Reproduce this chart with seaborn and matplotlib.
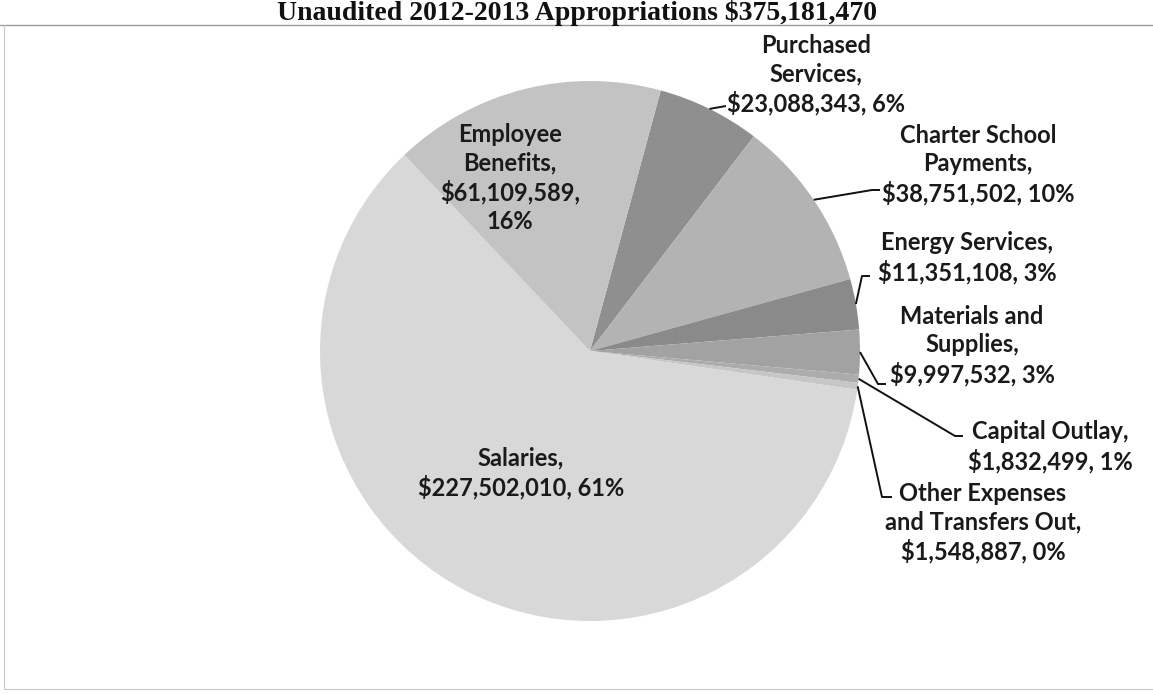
import numpy as np
import matplotlib
matplotlib.use("Agg")
import matplotlib.pyplot as plt
import seaborn as sns

# ---- data (clockwise order starting near 12 o'clock) ----
categories = ["Purchased Services", "Charter School Payments", "Energy Services",
              "Materials and Supplies", "Capital Outlay",
              "Other Expenses and Transfers Out", "Salaries", "Employee Benefits"]
values = [23088343, 38751502, 11351108, 9997532, 1832499, 1548887, 227502010, 61109589]
labels = ["Purchased\nServices,\n$23,088,343, 6%",
          "Charter School\nPayments,\n$38,751,502, 10%",
          "Energy Services,\n$11,351,108, 3%",
          "Materials and\nSupplies,\n$9,997,532, 3%",
          "Capital Outlay,\n$1,832,499, 1%",
          "Other Expenses\nand Transfers Out,\n$1,548,887, 0%",
          "Salaries,\n$227,502,010, 61%",
          "Employee\nBenefits,\n$61,109,589,\n16%"]
title = "Unaudited 2012-2013 Appropriations $375,181,470"

# ---- style ----
sns.set_theme(style="white")
plt.rcParams["font.family"] = ["Lato", "DejaVu Sans"]
colors = ["#8f8f8f", "#b3b3b3", "#8a8a8a", "#a2a2a2", "#acacac", "#c6c6c6",
          "#d8d8d8", "#c3c3c3"]

W, H = 1153, 694
fig = plt.figure(figsize=(W / 100, H / 100), dpi=100)
ax = fig.add_axes([0, 0, 1, 1])

def py(y):  # pixel row (from top) -> data y
    return H - y

cx, cy, R = 590, py(351), 270
wedges, _ = ax.pie(values, colors=colors, startangle=74.8, counterclock=False,
                   center=(cx, cy), radius=R, frame=True,
                   wedgeprops=dict(linewidth=0))
ax.set_xlim(0, W)
ax.set_ylim(0, H)
ax.set_aspect("equal")
ax.axis("off")

txtkw = dict(fontsize=17, fontweight="bold", color="#1a1a1a", ha="center",
             va="center", linespacing=1.28)

# label placement: (text centre x, text centre y in px-from-top, leader path or None)
layout = {
    0: (816, 75, [(726, 106)]),
    1: (978, 165, [(872, 190), (880, 190)]),
    2: (967, 258, [(862, 276), (870, 276)]),
    3: (972, 346, [(878, 384), (886, 384)]),
    4: (1050, 447, [(955, 436), (963, 436)]),
    5: (983, 523, [(882, 497), (892, 497)]),
    6: (521, 473, None),
    7: (510, 178, None),
}

for i, w in enumerate(wedges):
    tx, ty, path = layout[i]
    ax.text(tx, py(ty), labels[i], **txtkw)
    if path:
        th = np.deg2rad((w.theta1 + w.theta2) / 2)
        ex, ey = cx + R * np.cos(th), cy + R * np.sin(th)
        xs = [ex] + [p[0] for p in path]
        ys = [ey] + [py(p[1]) for p in path]
        ax.plot(xs, ys, color="#111111", lw=1.4, solid_capstyle="butt")

# title at the very top of the scan
ax.text(577, py(20), title, ha="center", va="baseline", fontsize=20,
        fontweight="bold", family=["Liberation Serif"], color="#111111")
# scan frame lines
ax.plot([0, W], [py(25), py(25)], color="#9a9a9a", lw=1.0)
ax.plot([4, 4], [py(25), py(689)], color="#c8c8c8", lw=0.8)
ax.plot([4, W], [py(689), py(689)], color="#c8c8c8", lw=0.8)

fig.savefig("out.png", dpi=100)
